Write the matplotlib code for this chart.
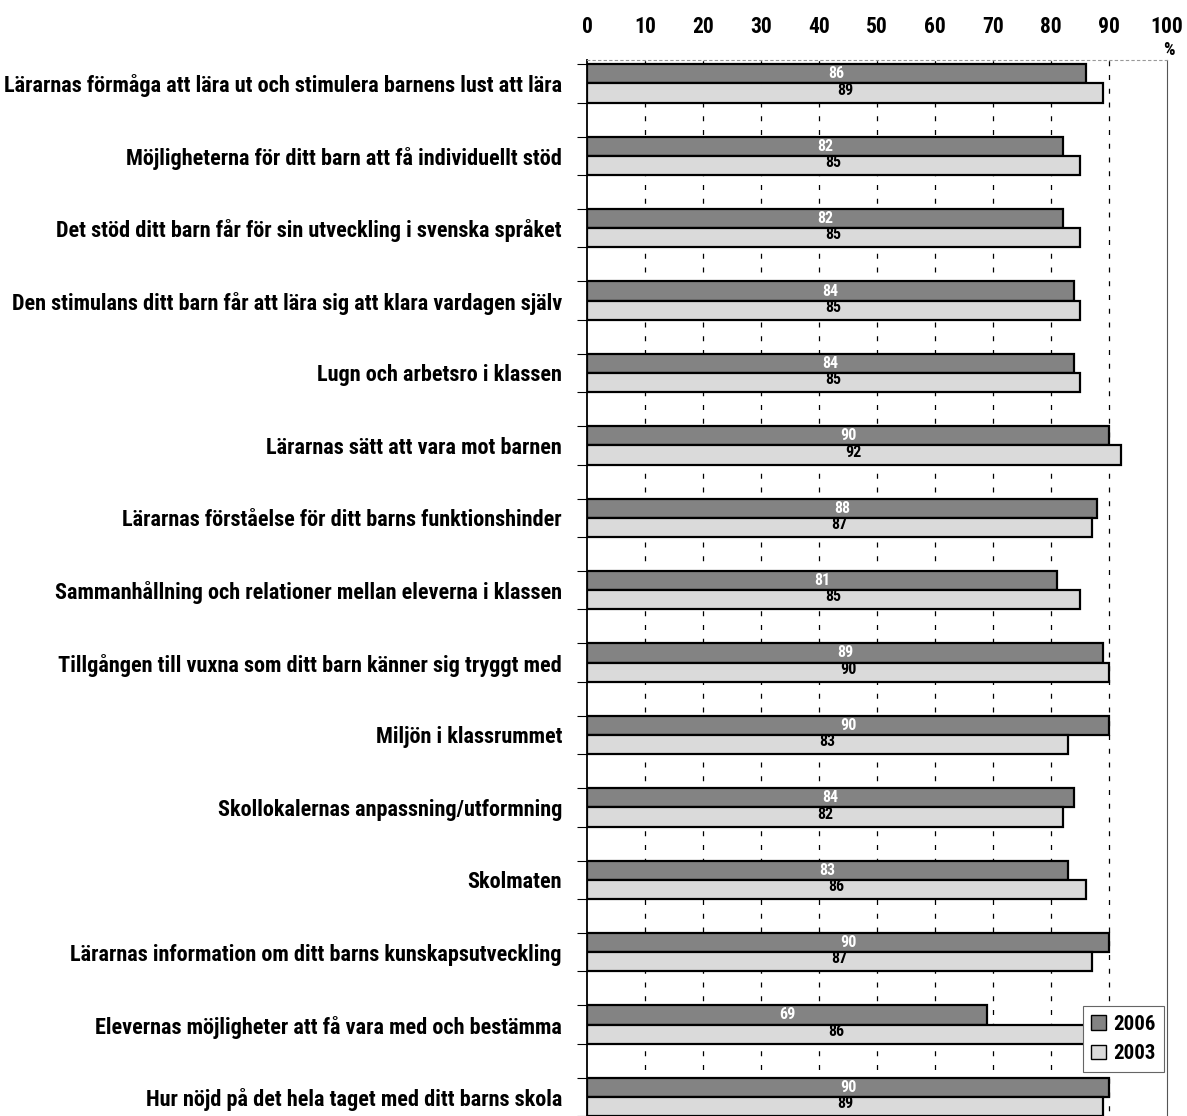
import numpy as np
import matplotlib
matplotlib.use('Agg')
import matplotlib.pyplot as plt
from matplotlib.patches import Patch

plt.rcParams['font.family'] = ['Roboto Condensed', 'Barlow Semi Condensed', 'DejaVu Sans']

categories = [
    'Lärarnas förmåga att lära ut och stimulera barnens lust att lära',
    'Möjligheterna för ditt barn att få individuellt stöd',
    'Det stöd ditt barn får för sin utveckling i svenska språket',
    'Den stimulans ditt barn får att lära sig att klara vardagen själv',
    'Lugn och arbetsro i klassen',
    'Lärarnas sätt att vara mot barnen',
    'Lärarnas förståelse för ditt barns funktionshinder',
    'Sammanhållning och relationer mellan eleverna i klassen',
    'Tillgången till vuxna som ditt barn känner sig tryggt med',
    'Miljön i klassrummet',
    'Skollokalernas anpassning/utformning',
    'Skolmaten',
    'Lärarnas information om ditt barns kunskapsutveckling',
    'Elevernas möjligheter att få vara med och bestämma',
    'Hur nöjd på det hela taget med ditt barns skola',
]
v2006 = [86, 82, 82, 84, 84, 90, 88, 81, 89, 90, 84, 83, 90, 69, 90]
v2003 = [89, 85, 85, 85, 85, 92, 87, 85, 90, 83, 82, 86, 87, 86, 89]
xticks = [0, 10, 20, 30, 40, 50, 60, 70, 80, 90, 100]

W, H = 1187, 1116
fig = plt.figure(figsize=(W / 100, H / 100), dpi=100)
ax = fig.add_axes([587 / W, -0.027, (1167 - 587) / W, 0.973])

y = np.arange(len(categories))
bh = 0.265
c06 = '#838383'
c03 = '#dadada'

ax.barh(y - bh / 2, v2006, height=bh, color=c06, edgecolor='black', linewidth=1.6, zorder=3)
ax.barh(y + bh / 2, v2003, height=bh, color=c03, edgecolor='black', linewidth=1.6, zorder=3)

for i in range(len(categories)):
    ax.text(v2006[i] / 2, y[i] - bh / 2, str(v2006[i]),
            ha='center', va='center', color='white', fontsize=11.5,
            fontweight='bold', zorder=4)
    ax.text(v2003[i] / 2, y[i] + bh / 2 - 0.04, str(v2003[i]),
            ha='center', va='center', color='black', fontsize=11.5,
            fontweight='bold', zorder=4)

# dashed gridlines
ax.vlines(xticks[1:-1], -0.5, len(categories), colors='black',
          linestyles=(0, (4, 7)), linewidth=0.9, zorder=1)

ax.set_xlim(0, 100)
ax.set_ylim(len(categories) - 0.32, -0.32)

ax.xaxis.tick_top()
ax.set_xticks(xticks)
ax.set_xticklabels([str(t) for t in xticks], fontsize=15.5, fontweight='bold')
ax.tick_params(axis='x', length=0, pad=16)

ax.set_yticks(y)
ax.set_yticklabels(categories, fontsize=16, fontweight='bold')
ax.tick_params(axis='y', which='major', length=0, pad=18)
ax.set_yticks(np.concatenate([y - bh, y + bh]), minor=True)
ax.tick_params(axis='y', which='minor', length=7, width=0.8, direction='out')

ax.annotate('%', xy=(100, 1), xycoords=('data', 'axes fraction'),
            xytext=(1, 1), textcoords='offset points', ha='center', va='bottom',
            fontsize=13, fontweight='bold')

ax.spines['left'].set_linewidth(1.3)
ax.spines['top'].set_color('#999999')
ax.spines['top'].set_linestyle((0, (2, 3)))
ax.spines['top'].set_linewidth(0.8)
ax.spines['right'].set_color('#555555')
ax.spines['right'].set_linewidth(0.8)
ax.spines['bottom'].set_visible(False)

handles = [Patch(facecolor=c06, edgecolor='black', label='2006'),
           Patch(facecolor=c03, edgecolor='black', label='2003')]
leg = fig.legend(handles=handles, loc='upper right',
                 bbox_to_anchor=(1174 / W, 1 - 996 / H),
                 prop={'weight': 'bold', 'size': 15}, fancybox=False,
                 handlelength=0.7, handleheight=0.7, handletextpad=0.35,
                 borderpad=0.4, labelspacing=0.5, framealpha=1)
leg.get_frame().set_edgecolor('#666666')
leg.get_frame().set_linewidth(0.8)

fig.savefig('out.png', dpi=100)
